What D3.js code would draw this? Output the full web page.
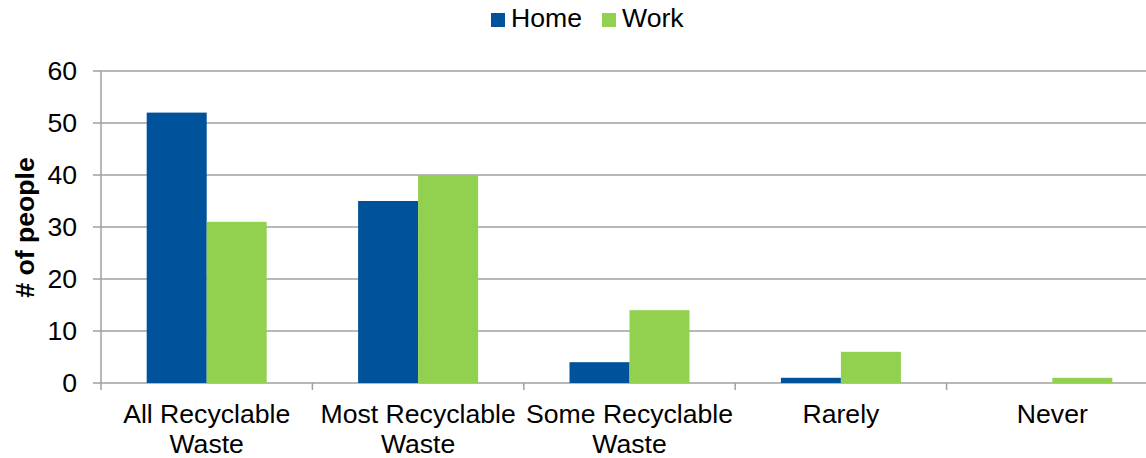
<!DOCTYPE html>
<html><head><meta charset="utf-8">
<script src="https://cdn.jsdelivr.net/npm/d3@7"></script>
<style>body{margin:0;background:#fff}svg{display:block}text{font-family:"Liberation Sans",Arial,sans-serif}</style>
</head><body><svg id="c" width="1146" height="458"></svg>
<script>
const categories = [["All Recyclable","Waste"],["Most Recyclable","Waste"],["Some Recyclable","Waste"],["Rarely"],["Never"]];
const seriesNames = ["Home","Work"];
const homeValues = [52,35,4,1,0];
const workValues = [31,40,14,6,1];
const yTicks = [0,10,20,30,40,50,60];
const colors = ["#00529B","#92D050"];

(function(){
const svg = d3.select("#c");
const pL = 101, pR = 1158, pT = 71, pB = 383;
const fs = 25, sx = 1.065;
const keys = categories.map((d,i)=>i);
const x = d3.scaleBand().domain(keys).range([pL,pR]).padding(0);
const y = d3.scaleLinear().domain([0,60]).range([pB,pT]);
const sub = d3.scaleBand().domain(seriesNames).range([0,120]);
const data = [homeValues, workValues];

svg.append("g").selectAll("line").data(yTicks).join("line")
  .attr("x1",93).attr("x2",pR).attr("y1",d=>y(d)).attr("y2",d=>y(d))
  .attr("stroke","#a0a0a0").attr("stroke-width",1.5);
svg.append("line").attr("x1",pL).attr("x2",pL).attr("y1",pT).attr("y2",pB+7)
  .attr("stroke","#a0a0a0").attr("stroke-width",1.5);
svg.append("g").selectAll("line").data(keys.slice(1)).join("line")
  .attr("x1",d=>x(d)).attr("x2",d=>x(d)).attr("y1",pB).attr("y2",pB+7)
  .attr("stroke","#a0a0a0").attr("stroke-width",1.5);

seriesNames.forEach((s,si)=>{
  svg.append("g").selectAll("rect").data(data[si]).join("rect")
    .attr("x",(d,i)=>x(i)+x.bandwidth()/2-60+sub(s))
    .attr("width",sub.bandwidth())
    .attr("y",d=>y(d)).attr("height",d=>pB-y(d))
    .attr("fill",colors[si]);
});

svg.append("g").selectAll("text").data(yTicks).join("text")
  .attr("transform",d=>`translate(77,${y(d)}) scale(${sx},1)`).attr("dy","0.35em").attr("text-anchor","end")
  .attr("font-size",fs).attr("fill","#000").text(d=>d);

const xl = svg.append("g").selectAll("text").data(categories).join("text")
  .attr("text-anchor","middle").attr("font-size",fs).attr("fill","#000")
  .attr("transform",(d,i)=>`translate(${x(i)+x.bandwidth()/2},423) scale(${sx},1)`);
xl.selectAll("tspan").data(d=>d).join("tspan").attr("x",0).attr("dy",(d,i)=>i?30:0).text(d=>d);

svg.append("text").attr("transform",`translate(34,227.5) rotate(-90) scale(${sx},1)`).attr("text-anchor","middle")
  .attr("font-size",fs).attr("font-weight","bold").text("# of people");

const lx = [491,602];
seriesNames.forEach((s,i)=>{
  svg.append("rect").attr("x",lx[i]).attr("y",13).attr("width",14).attr("height",14).attr("fill",colors[i]);
  svg.append("text").attr("transform",`translate(${lx[i]+20},27) scale(${sx},1)`).attr("font-size",fs).text(s);
});
})();
</script></body></html>
